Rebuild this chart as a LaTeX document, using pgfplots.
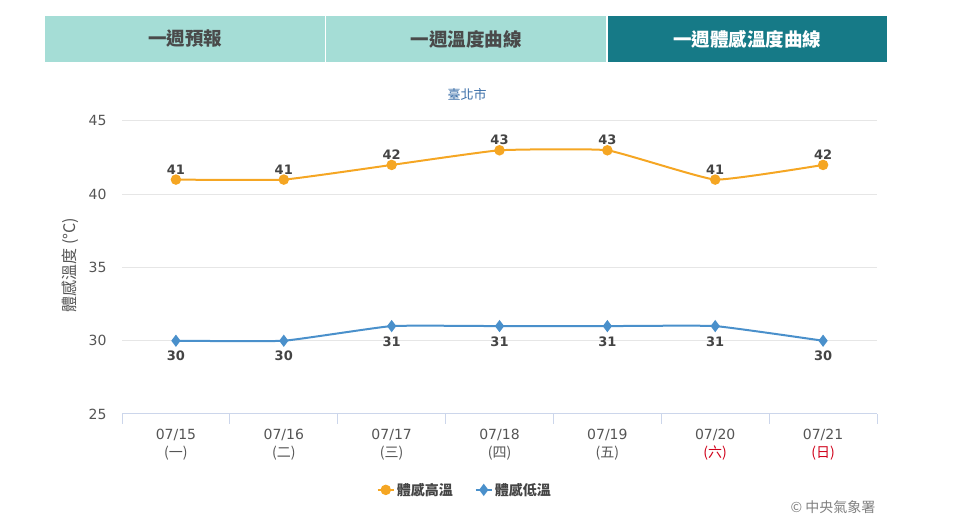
\documentclass[border=0pt]{standalone}
\usepackage{fontspec}
\setmainfont{DejaVu Sans}
\newfontfamily\cjk{Noto Sans CJK TC}
\usepackage{pgfplots}
\pgfplotsset{compat=1.18}
\definecolor{tablight}{HTML}{A5DDD6}
\definecolor{tabdark}{HTML}{167A87}
\definecolor{tabtext}{HTML}{4A4A4A}
\definecolor{hiorange}{HTML}{F5A623}
\definecolor{loblue}{HTML}{4A90CB}
\definecolor{gridgray}{HTML}{E6E6E6}
\definecolor{axisline}{HTML}{CCD6EB}
\definecolor{ticktext}{HTML}{555555}
\definecolor{labeltext}{HTML}{444444}
\definecolor{titleblue}{HTML}{3A6EA8}
\definecolor{wkred}{HTML}{D0021B}
\begin{document}
\begin{tikzpicture}[x=1bp,y=1bp]
\path[use as bounding box] (0,0) rectangle (959,516);
% tabs
\fill[tablight] (45,454) rectangle (325,500);
\fill[tablight] (326,454) rectangle (606,500);
\fill[tabdark] (608,454) rectangle (887,500);
\node[text=tabtext,font=\cjk\fontsize{18.5bp}{20bp}\selectfont\bfseries] at (185,477) {一週預報};
\node[text=tabtext,font=\cjk\fontsize{18.5bp}{20bp}\selectfont\bfseries] at (466,477) {一週溫度曲線};
\node[text=white,font=\cjk\fontsize{18.5bp}{20bp}\selectfont\bfseries] at (747,477) {一週體感溫度曲線};
% title
\node[text=titleblue,font=\cjk\fontsize{13bp}{15bp}\selectfont] at (467,421) {臺北市};
% y label
\node[text=ticktext,font=\cjk\fontsize{16bp}{18bp}\selectfont,rotate=90] at (70,251) {體感溫度 (°C)};
% credit
\node[text=gray,font=\cjk\fontsize{14bp}{16bp}\selectfont,anchor=east] at (879,9) {© 中央氣象署};
\begin{axis}[
  at={(122bp,102bp)}, anchor=south west,
  scale only axis, width=755bp, height=293bp,
  xmin=-0.5, xmax=6.5, ymin=25, ymax=45,
  ytick={25,30,...,45},
  /pgf/number format/assume math mode=true,
  ymajorgrids, grid style={color=gridgray, line width=1bp},
  axis x line*=bottom, axis y line*=left,
  x axis line style={color=axisline, line width=1bp},
  y axis line style={draw=none},
  ytick style={draw=none},
  xtick={0,...,6},
  major tick length=0pt,
  xticklabels={{07/15\\{\cjk(一)}},{07/16\\{\cjk(二)}},{07/17\\{\cjk(三)}},{07/18\\{\cjk(四)}},{07/19\\{\cjk(五)}},{07/20\\\textcolor{wkred}{\cjk(六)}},{07/21\\\textcolor{wkred}{\cjk(日)}}},
  x tick label style={align=center, text=ticktext, font=\fontsize{14bp}{18bp}\selectfont, yshift=-12bp},
  y tick label style={text=ticktext, font=\fontsize{14bp}{16bp}\selectfont, xshift=-12bp},
  extra x ticks={-0.5,0.5,...,6.5},
  extra x tick labels={},
  extra x tick style={major tick length=10bp, tick align=outside, tick style={color=axisline, line width=1bp}},
  legend style={at={(rel axis cs:0.454,-0.259)}, anchor=center, draw=none, fill=none, legend columns=2,
    font=\cjk\fontsize{14bp}{16bp}\selectfont\bfseries, text=labeltext,
    /tikz/every even column/.append style={column sep=20bp}},
  legend image code/.code={\draw[#1] (0bp,0bp) -- (16bp,0bp); \draw[#1,mark repeat=2,mark phase=2] plot coordinates {(0bp,0bp) (8bp,0bp) (16bp,0bp)};},
  nodes near coords,
  every node near coord/.append style={font=\fontsize{13bp}{15bp}\selectfont\bfseries, text=labeltext},
]
\addplot[color=hiorange, line width=2bp, smooth, tension=0.22, mark=*, mark size=4.2bp, mark options={fill=hiorange, draw=hiorange},
  every node near coord/.append style={yshift=1bp}]
  coordinates {(0,41) (1,41) (2,42) (3,43) (4,43) (5,41) (6,42)};
\addlegendentry{體感高溫}
\addplot[color=loblue, line width=2bp, smooth, tension=0.22, mark=diamond*, mark size=4.5bp, mark options={fill=loblue, draw=loblue},
  nodes near coords align={below}, every node near coord/.append style={yshift=-6bp}]
  coordinates {(0,30) (1,30) (2,31) (3,31) (4,31) (5,31) (6,30)};
\addlegendentry{體感低溫}
\end{axis}
\end{tikzpicture}
\end{document}
